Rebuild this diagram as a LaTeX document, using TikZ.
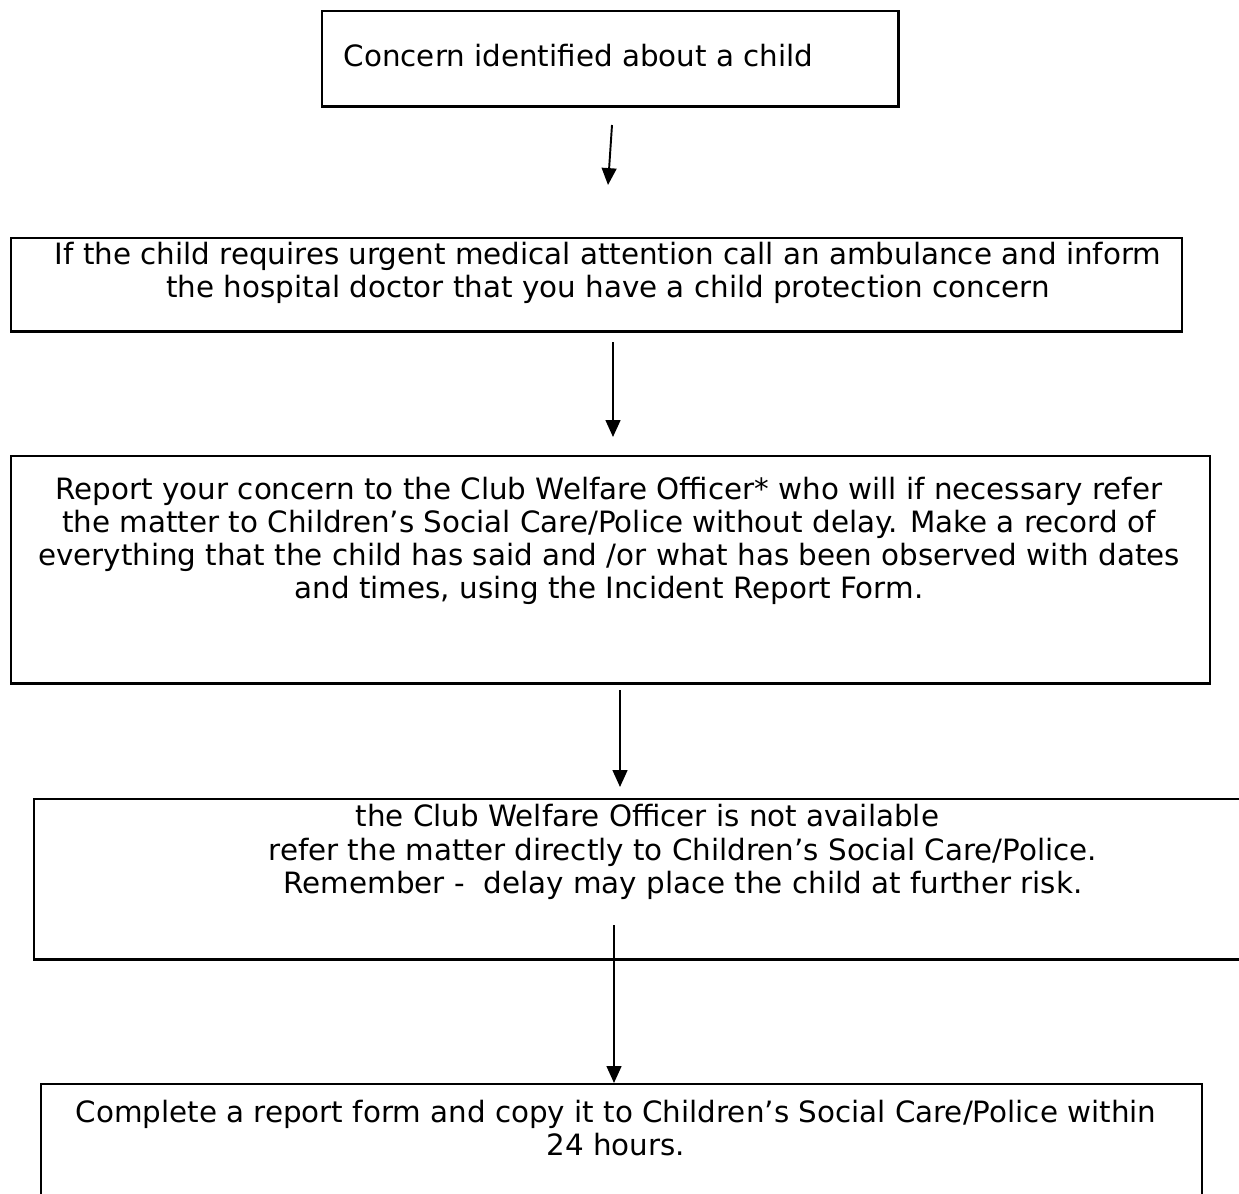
\documentclass[tikz,border=0pt]{standalone}
\usepackage{fontspec}
\setmainfont{DejaVu Sans}
\usetikzlibrary{arrows.meta}
\newcommand{\flowfont}{\fontsize{8.35pt}{9.45pt}\selectfont}

\begin{document}
\begin{tikzpicture}[x=0.01cm, y=-0.01cm,
  stepbox/.style={draw, line width=0.7pt, inner sep=0pt, anchor=north west},
  steptext/.style={font=\flowfont, inner sep=0pt, align=center},
  flowarrow/.style={line width=0.55pt, -{Triangle[length=4.8pt, width=4.2pt]}}]

\useasboundingbox (0,0) rectangle (1239,1194);

% boxes
\node[stepbox, minimum width=5.76cm, minimum height=0.95cm] at (321,10) (concern) {};
\node[stepbox, minimum width=11.70cm, minimum height=0.93cm] at (10,237) (medical) {};
\node[stepbox, minimum width=11.98cm, minimum height=2.27cm] at (10,455) (report) {};
\node[stepbox, minimum width=13.00cm, minimum height=1.60cm] at (33,798) (notavail) {};
\node[stepbox, minimum width=11.60cm, minimum height=2.00cm] at (40,1083) (complete) {};

% texts
\node[steptext, anchor=base west] at (343,67) (concerntxt) {Concern identified about a child};
\node[steptext, anchor=north] at (608,241) (medicaltxt) {If the child requires urgent medical attention call an ambulance and inform\\the hospital doctor that you have a child protection concern};
\node[steptext, anchor=north] at (609,476) (reporttxt) {Report your concern to the Club Welfare Officer* who will if necessary refer\\the matter to Children’s Social Care/Police without delay. Make a record of\\everything that the child has said and /or what has been observed with dates\\and times, using the Incident Report Form.};
\node[steptext, anchor=base west] at (355,826) (notavailtxt) {the Club Welfare Officer is not available};
\node[steptext, anchor=base west] at (268,860) (directtxt) {refer the matter directly to Children’s Social Care/Police.};
\node[steptext, anchor=base west] at (283,893) (remembertxt) {Remember -~ delay may place the child at further risk.};
\node[steptext, anchor=north] at (616,1099) (completetxt) {Complete a report form and copy it to Children’s Social Care/Police within\\24 hours.};

% arrows
\coordinate (a1s) at (612,125);
\coordinate (a1e) at (608,185);
\coordinate (a2s) at (613,342);
\coordinate (a2e) at (613,437);
\coordinate (a3s) at (620,690);
\coordinate (a3e) at (620,787);
\coordinate (a4s) at (614,925);
\draw[flowarrow] (a1s) -- (a1e);
\draw[flowarrow] (a2s) -- (a2e);
\draw[flowarrow] (a3s) -- (a3e);
\draw[flowarrow] (a4s) -- (a4s |- complete.north);

\end{tikzpicture}
\end{document}
